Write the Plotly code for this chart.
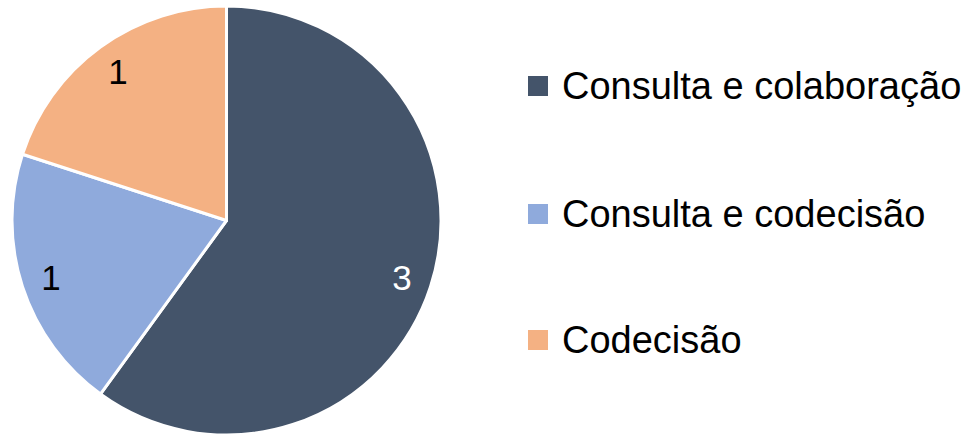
import plotly.graph_objects as go

labels = ["Consulta e colaboração", "Consulta e codecisão", "Codecisão"]
values = [3, 1, 1]
colors = ["#44546A", "#8FAADC", "#F4B183"]
text_colors = ["white", "black", "black"]

W, H = 972, 436
dom = dict(x=[12 / W, 441 / W], y=[1 - 435 / H, 1 - 6 / H])

fig = go.Figure()
# filled slices
fig.add_trace(go.Pie(
    labels=labels,
    values=values,
    sort=False,
    direction="clockwise",
    rotation=0,
    marker=dict(colors=colors, line=dict(color="white", width=3)),
    textinfo="none",
    showlegend=False,
    domain=dom,
    hoverinfo="label+value",
))
# transparent ring carrying the value labels near the rim
fig.add_trace(go.Pie(
    labels=labels,
    values=values,
    sort=False,
    direction="clockwise",
    rotation=0,
    hole=0.72,
    marker=dict(colors=["rgba(0,0,0,0)"] * len(values), line=dict(width=0)),
    textinfo="value",
    textposition="inside",
    insidetextorientation="horizontal",
    textfont=dict(family="Liberation Sans", size=35, color=text_colors),
    showlegend=False,
    domain=dom,
    hoverinfo="skip",
))

# legend built from the label/colour lists
leg_y = [86, 214, 340]
for lab, col, yy in zip(labels, colors, leg_y):
    fig.add_shape(type="rect", xref="paper", yref="paper",
                  x0=528 / W, x1=548 / W, y0=1 - (yy + 10) / H, y1=1 - (yy - 10) / H,
                  fillcolor=col, line=dict(width=0))
    fig.add_annotation(x=560 / W, y=1 - yy / H, xref="paper", yref="paper",
                       text=lab, showarrow=False, xanchor="left", yanchor="middle",
                       font=dict(family="Liberation Sans", size=38, color="black"))

fig.update_layout(
    width=W, height=H,
    margin=dict(l=0, r=0, t=0, b=0),
    paper_bgcolor="white",
    plot_bgcolor="white",
)

fig.write_html("out.html", config={"displayModeBar": False},
               post_script="document.body.style.margin='0';")
